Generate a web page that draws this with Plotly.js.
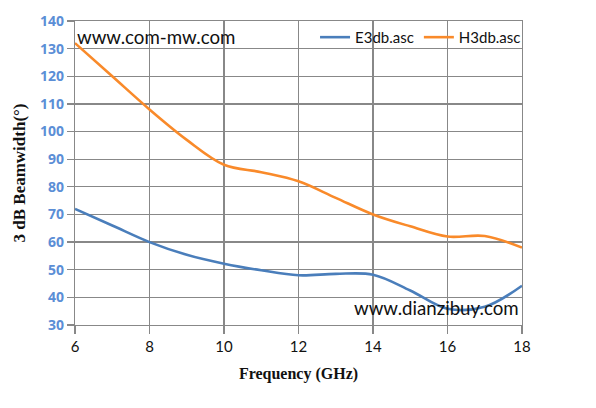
<!DOCTYPE html>
<html>
<head>
<meta charset="utf-8">
<script src="https://cdn.plot.ly/plotly-3.0.1.min.js"></script>
<style>html,body{margin:0;padding:0;background:#fff;}#chart{width:596px;height:408px;}</style>
</head>
<body>
<div id="chart"></div>
<script>
const freqGHz = [6, 7, 8, 9, 10, 11, 12, 13, 14, 15, 16, 17, 18];
const e3db = [72, 66, 60, 55.4, 52.2, 49.8, 48, 48.5, 48.2, 42.5, 35.9, 36.6, 44.2];
const h3db = [132, 120, 108, 97, 88, 85.3, 82, 76, 70, 65.7, 62, 62.2, 58];
const seriesNames = ["E3db.asc", "H3db.asc"];
const xTicks = [6, 8, 10, 12, 14, 16, 18];
const yTicks = [30, 40, 50, 60, 70, 80, 90, 100, 110, 120, 130, 140];

const traces = [
  {x: freqGHz, y: e3db, name: seriesNames[0], type: 'scatter', mode: 'lines',
   line: {color: '#4a7ebb', width: 2.6, shape: 'spline', smoothing: 1}},
  {x: freqGHz, y: h3db, name: seriesNames[1], type: 'scatter', mode: 'lines',
   line: {color: '#f98a2a', width: 2.6, shape: 'spline', smoothing: 1}}
];

const layout = {
  width: 596, height: 408,
  margin: {l: 75, r: 74, t: 21, b: 82.5},
  paper_bgcolor: '#fff', plot_bgcolor: '#fff',
  showlegend: true,
  legend: {orientation: 'h', x: 0.537, xanchor: 'left', y: 0.946, yanchor: 'middle',
    font: {family: 'Lato, sans-serif', size: 15, color: '#111'}, bgcolor: 'rgba(0,0,0,0)',
    itemwidth: 30, tracegroupgap: 0},
  xaxis: {range: [6, 18], tickvals: xTicks, showgrid: true, gridcolor: '#888', gridwidth: 1.3,
    zeroline: false, showline: true, linecolor: '#888', linewidth: 1.3, mirror: true,
    ticks: 'outside', ticklen: 8, tickcolor: '#888', tickwidth: 1.3,
    tickfont: {family: 'Lato, sans-serif', size: 15, color: '#111'},
    title: {text: 'Frequency (GHz)', standoff: 13,
      font: {family: 'Liberation Serif, serif', size: 16, color: '#111', weight: 700}}},
  yaxis: {range: [30, 140], tickvals: yTicks, ticktext: yTicks.map(v => '<b>' + v + '</b>'),
    showgrid: true, gridcolor: '#888', gridwidth: 1.3,
    zeroline: false, showline: true, linecolor: '#888', linewidth: 1.3, mirror: true,
    ticks: 'outside', ticklen: 7, tickcolor: '#888', tickwidth: 1.3,
    tickfont: {family: 'Open Sans, sans-serif', size: 14, color: '#5b8ed6'},
    title: {text: '3 dB Beamwidth(°)', standoff: 10,
      font: {family: 'Liberation Serif, serif', size: 17, color: '#111', weight: 700}}},
  annotations: [
    {text: 'www.com-mw.com', xref: 'paper', yref: 'paper', x: 0, y: 0.948, xanchor: 'left', yanchor: 'middle',
     showarrow: false, font: {family: 'Lato, sans-serif', size: 18.7, color: '#111'}},
    {text: 'www.dianzibuy.com', xref: 'paper', yref: 'paper', x: 0.998, y: 0.057, xanchor: 'right', yanchor: 'middle',
     showarrow: false, font: {family: 'Lato, sans-serif', size: 18.7, color: '#111'}}
  ]
};

Plotly.newPlot('chart', traces, layout, {displayModeBar: false, staticPlot: true});
</script>
</body>
</html>
